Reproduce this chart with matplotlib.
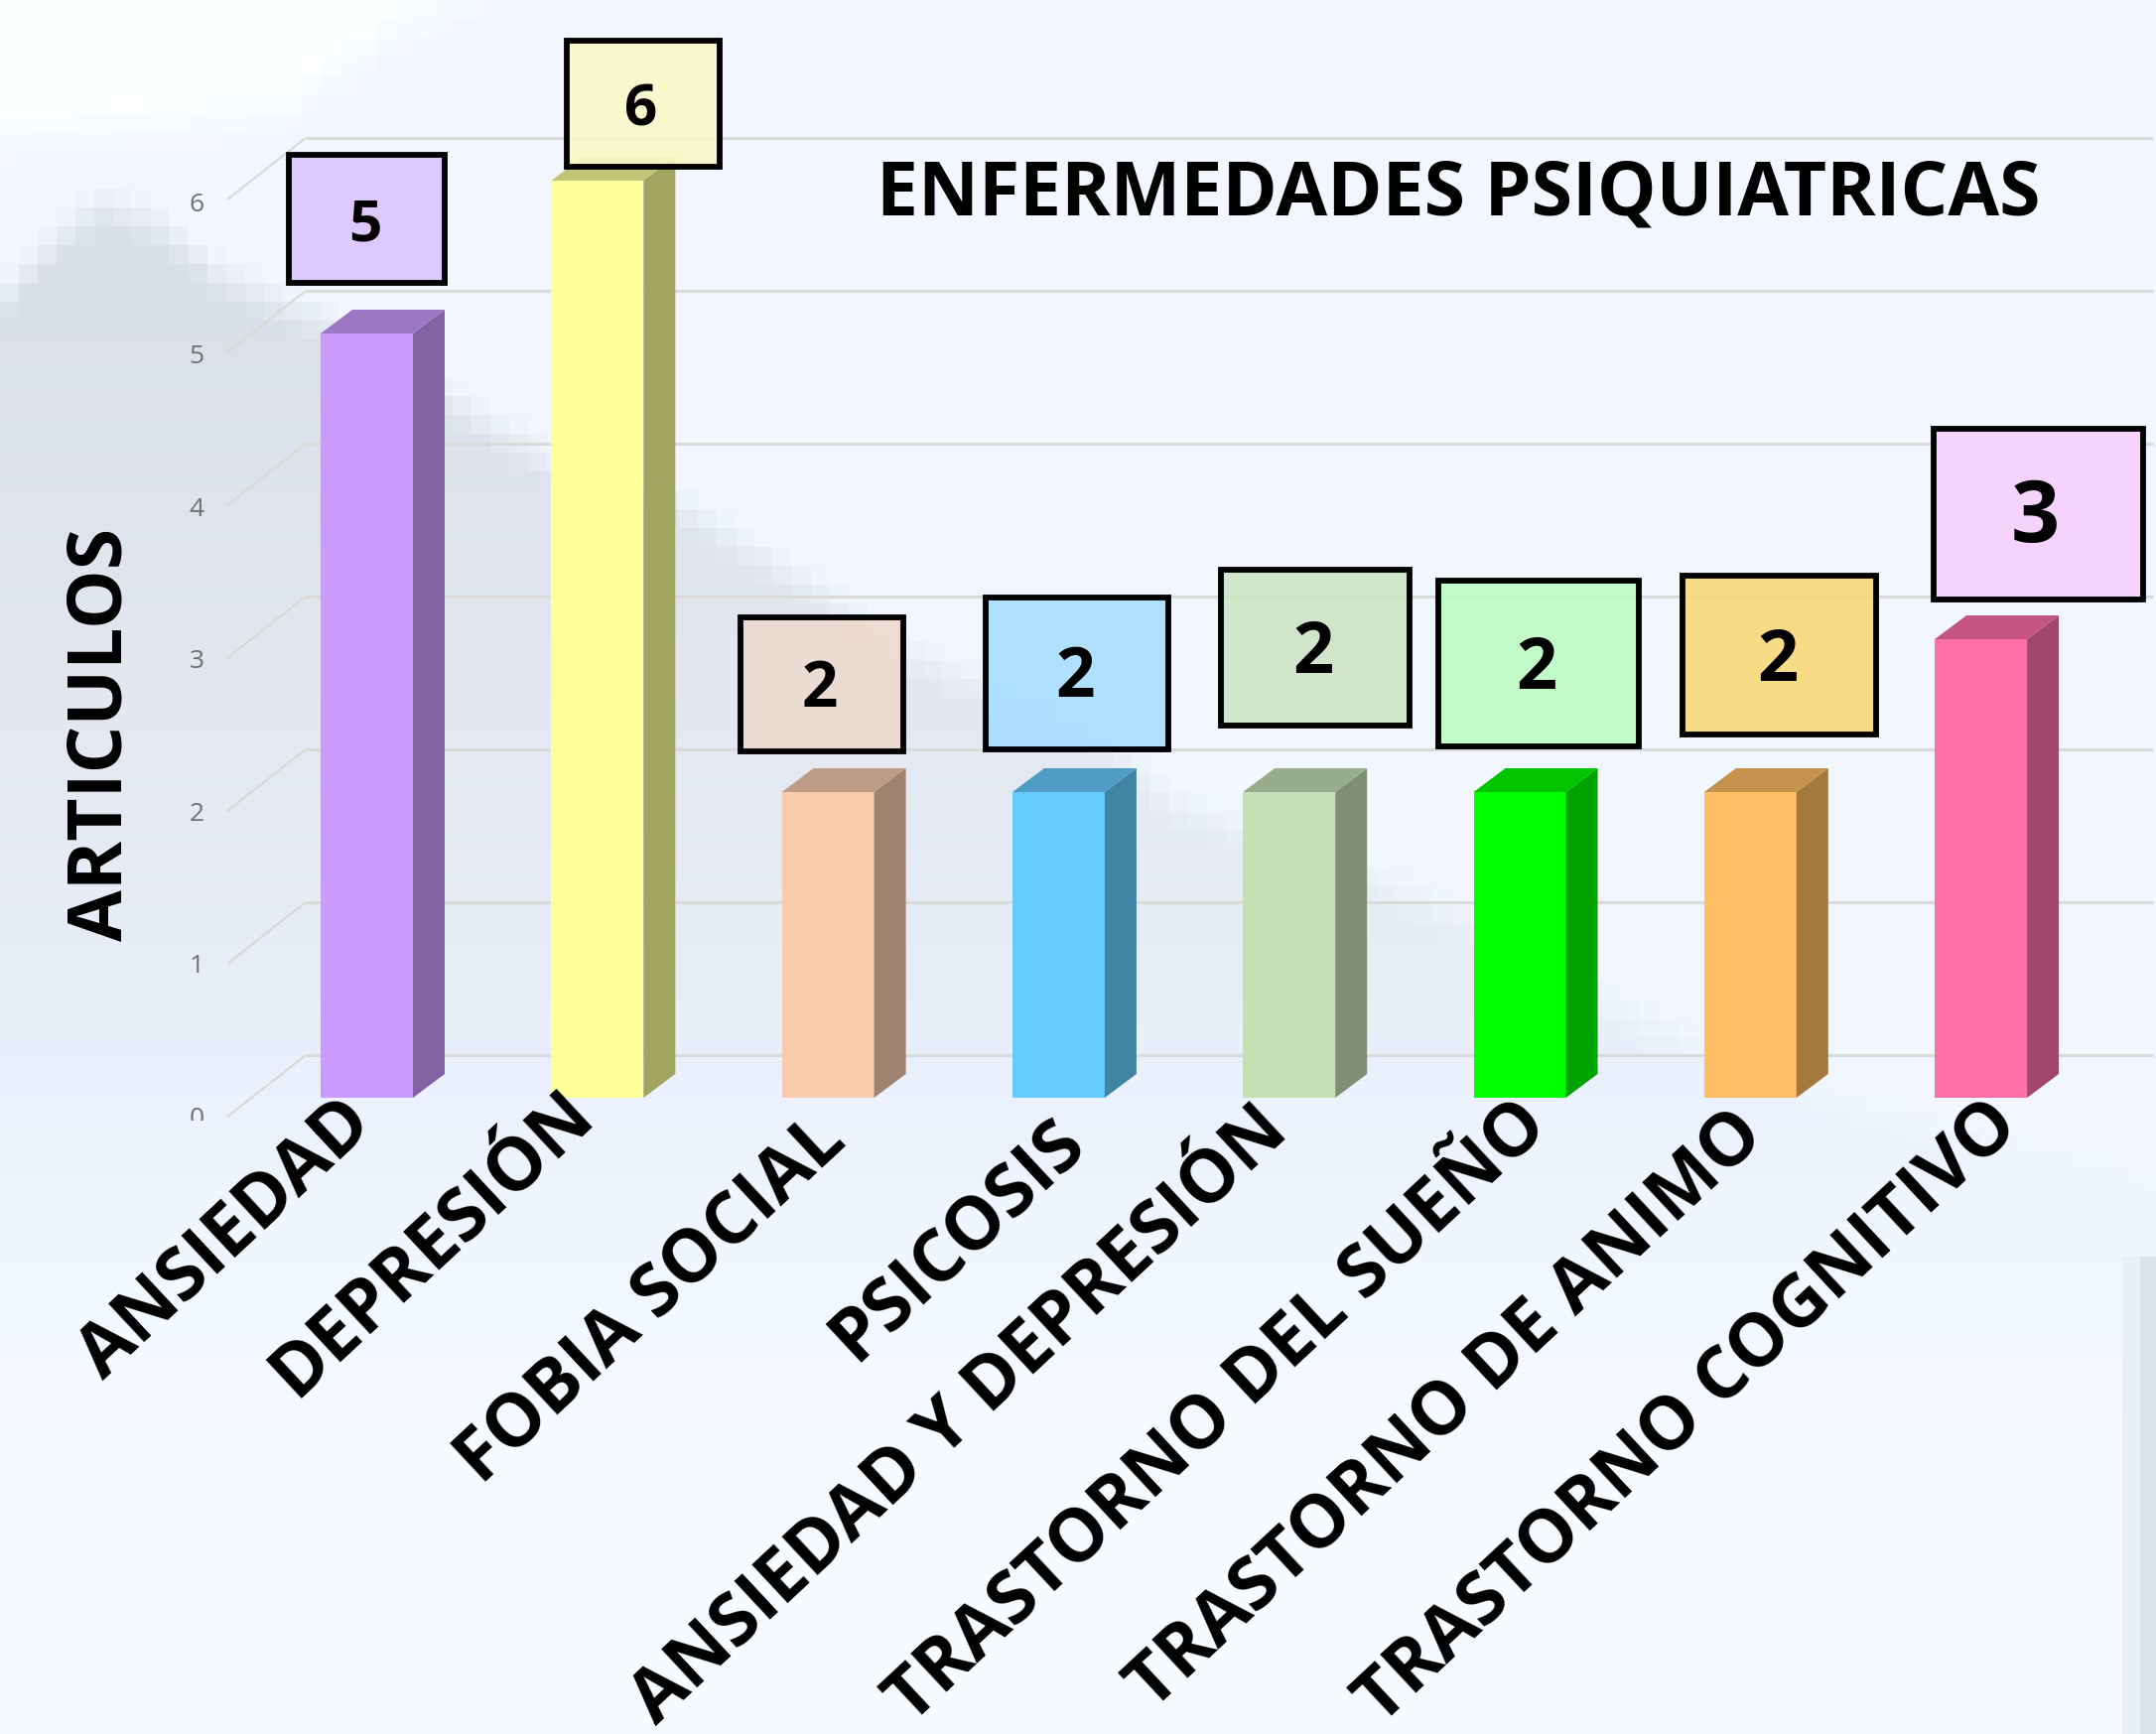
import numpy as np
import matplotlib
matplotlib.use("Agg")
import matplotlib.pyplot as plt
from matplotlib.patches import Polygon, Rectangle
from matplotlib.colors import to_rgb, to_rgba

# ---- data ----
categories = ["ANSIEDAD", "DEPRESIÓN", "FOBIA SOCIAL", "PSICOSIS",
              "ANSIEDAD Y DEPRESIÓN", "TRASTORNO DEL SUEÑO",
              "TRASTORNO DE ANIMO", "TRASTORNO COGNITIVO"]
values = [5, 6, 2, 2, 2, 2, 2, 3]
bar_colors = ["#CC99FF", "#FFFF99", "#F8CBAD", "#66CCFF",
              "#C5E0B4", "#00FF00", "#FFBD64", "#FF6FA6"]
box_colors = ["#DCC4FF", "#F8FAC8", "#EEDACF", "#A8DFFF",
              "#CDE3C3", "#BEFBC4", "#F9D878", "#F6D0FC"]
y_ticks = [0, 1, 2, 3, 4, 5, 6]
title = "ENFERMEDADES PSIQUIATRICAS"
y_label = "ARTICULOS"

# ---- layout (pixels of the 2172x1747 canvas) ----
W, H = 2172, 1747
X0, PITCH, BAR_W = 369.5, 232.3, 93
Y0, UNIT = 1106, 154
box_rects = [(288, 153, 450, 287), (568, 38, 727, 170), (743, 619, 912, 759),
             (990, 599, 1179, 757), (1227, 571, 1422, 733), (1446, 582, 1653, 754),
             (1692, 577, 1892, 742), (1945, 429, 2161, 606)]
box_text = [(368, 220, 42), (646, 104, 42), (826, 688, 46), (1083, 676, 50),
            (1323, 651, 52), (1548, 667, 52), (1791, 658, 52), (2050, 513, 62)]
label_centers = [(228, 1249), (436, 1253), (656, 1310), (965, 1250),
                 (967, 1427), (1227, 1423), (1457, 1421), (1700, 1424)]

plt.rcParams["font.family"] = ["Open Sans", "DejaVu Sans"]
fig = plt.figure(figsize=(W / 100, H / 100), dpi=100)

# ---- background: blocky blurred backdrop ----
bg = fig.add_axes([0, 0, 1, 1], zorder=0)
bg.set_axis_off()
B = 19
nx, ny = W // B + 1, H // B + 1
xc = (np.arange(nx) + .5) * B
yc = (np.arange(ny) + .5) * B
XX, YY = np.meshgrid(xc, yc)
edge_x = [0, 40, 100, 160, 220, 340, 460, 555, 680, 830, 915, 1110, 1180, 1370, 1470, 1660, 1870, 2172]
edge_y = [285, 235, 185, 205, 255, 310, 385, 445, 485, 580, 640, 720, 790, 860, 905, 1010, 1100, 1180]
boundary = np.interp(XX, edge_x, edge_y)
s = np.clip((YY - boundary) / 45, 0, 1)
gy = [300, 700, 1000, 1110, 1300, 1500]
grad = np.stack([np.interp(YY, gy, [to_rgb(c)[i] for c in
                 ["#DAE0E9", "#E2E7F0", "#E8EEF8", "#EBF2FD", "#F2F8FF", "#F6FBFF"]])
                 for i in range(3)], -1)
base = np.stack([np.interp(YY, [0, 1300, 1500], [to_rgb(c)[i] for c in
                 ["#F2F7FF", "#F2F8FF", "#F6FBFF"]]) for i in range(3)], -1)
img = base + (grad - base) * s[..., None]
white_edge = np.interp(XX, [0, 280, 390, 530, 800], [175, 150, 70, 0, -40])
w = np.clip((white_edge - YY) / 60, 0, 1)
img = img + (np.array([.99, 1, 1]) - img) * w[..., None]
bg.imshow(img, extent=(0, nx * B, ny * B, 0), interpolation="nearest", aspect="auto")
bg.add_patch(Rectangle((2138, 1266), 18, H - 1266, fc="#E9EFF8", ec="none"))
bg.add_patch(Rectangle((2156, 1266), 16, H - 1266, fc="#DCE2EC", ec="none"))
bg.set_xlim(0, W)
bg.set_ylim(H, 0)

# ---- chart axes: x in categories, y in values ----
ax = fig.add_axes([0, 0, 1, 1], zorder=1)
ax.patch.set_alpha(0)
ax.set_axis_off()
ax.set_xlim((0 - X0) / PITCH, (W - X0) / PITCH)
ax.set_ylim((Y0 - H) / UNIT, Y0 / UNIT)
dx, dy = 32 / PITCH, 24 / UNIT
half = BAR_W / 2 / PITCH
back_x, back_y = (308 - X0) / PITCH, 43 / UNIT
front_x, front_y = (229 - X0) / PITCH, -19 / UNIT
right_x = (2169 - X0) / PITCH

for k in y_ticks:
    ax.plot([front_x, back_x], [k + front_y, k + back_y], color="#DAD9D4", lw=1.6,
            zorder=1, solid_capstyle="butt")
    ax.plot([back_x, right_x], [k + back_y, k + back_y], color="#DADADA", lw=2.2,
            zorder=1, solid_capstyle="butt")

xs = np.arange(len(values))
ax.bar(xs, values, width=2 * half, color=bar_colors, edgecolor="none", zorder=3)
for x, v, c in zip(xs, values, bar_colors):
    rgb = np.array(to_rgb(c))
    ax.add_patch(Polygon([(x + half, 0), (x + half + dx, dy), (x + half + dx, v + dy), (x + half, v)],
                         fc=rgb * .64, ec="none", zorder=3))
    ax.add_patch(Polygon([(x - half, v), (x + half, v), (x + half + dx, v + dy), (x - half + dx, v + dy)],
                         fc=rgb * .77, ec="none", zorder=3))

# ---- overlay in canvas pixels for text and boxes ----
ov = fig.add_axes([0, 0, 1, 1], zorder=2)
ov.patch.set_alpha(0)
ov.set_axis_off()
ov.set_xlim(0, W)
ov.set_ylim(H, 0)

for k in y_ticks:
    t = ov.text(198, 1127 - 153.5 * k, str(k), color="#707070", fontsize=19, ha="center", va="center")
    t.set_clip_on(True)
    t.set_clip_path(Rectangle((0, 0), W, 1129, transform=ov.transData))

INSET = 2.5
for (x0, y0, x1, y1), c, v, (tx, ty, fs) in zip(box_rects, box_colors, values, box_text):
    ov.add_patch(Rectangle((x0 + INSET, y0 + INSET), x1 - x0 - 2 * INSET, y1 - y0 - 2 * INSET,
                           fc=to_rgba(c, .9), ec="black", lw=4.2))
    ov.text(tx, ty, str(v), fontsize=fs, fontweight="bold", color="black", ha="center", va="center_baseline")

for name, (cx, cy) in zip(categories, label_centers):
    ov.text(cx, cy, name, fontsize=53, fontweight="bold", color="black", rotation=43,
            rotation_mode="anchor", ha="center", va="center")

ov.text(1469, 197, title, fontsize=54, fontweight="bold", color="black", ha="center", va="center")
ov.text(103, 740, y_label, fontsize=54, fontweight="bold", color="black", rotation=90, ha="center", va="center")

fig.savefig("out.png", dpi=100)
